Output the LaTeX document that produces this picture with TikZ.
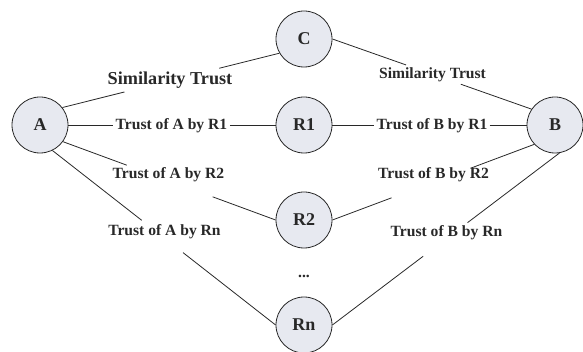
\documentclass[tikz,border=0pt]{standalone}
\usepackage{fontspec}
\setmainfont{Liberation Serif}
\usetikzlibrary{calc}
\definecolor{nodefill}{RGB}{231,233,240}
\definecolor{inkgray}{RGB}{40,40,40}
\tikzset{
  ent/.style={circle, draw=inkgray, line width=0.8pt, fill=nodefill, minimum size=56pt, inner sep=0pt, font=\fontsize{18}{18}\selectfont\bfseries, text=inkgray},
  lbl/.style={anchor=base, inner sep=0pt, font=\fontsize{15.6}{16}\selectfont\bfseries, text=inkgray},
  biglbl/.style={anchor=base, inner sep=0pt, font=\fontsize{18.2}{19}\selectfont\bfseries, text=inkgray},
  conn/.style={draw=inkgray, line width=0.8pt}
}
\begin{document}
\begin{tikzpicture}[x=1pt,y=-1pt]
\useasboundingbox (0,0) rectangle (583,352);
% nodes
\node[ent] (A)  at (40,125)  {A};
\node[ent] (C)  at (304,39)  {C};
\node[ent] (R1) at (304,125) {R1};
\node[ent] (R2) at (304,220) {R2};
\node[ent] (Rn) at (304,325) {Rn};
\node[ent] (B)  at (555,125) {B};
% labels
\node[biglbl] (lAC)  at (170,85)    {Similarity Trust};
\node[lbl]    (lCB)  at (432.5,79)  {Similarity Trust};
\node[lbl]    (lAR1) at (171.5,130) {Trust of A by R1};
\node[lbl]    (lBR1) at (432,130)   {Trust of B by R1};
\node[lbl]    (lAR2) at (168.5,179) {Trust of A by R2};
\node[lbl]    (lBR2) at (433.5,179) {Trust of B by R2};
\node[lbl]    (lARn) at (164.5,236) {Trust of A by Rn};
\node[lbl]    (lBRn) at (446.5,237) {Trust of B by Rn};
\node[lbl]    (dots) at (304,278)   {...};
% connectors (broken around their labels)
\draw[conn] (A.38) -- ($(A.38)!0.286!(C.210)$);
\draw[conn] ($(A.38)!0.723!(C.210)$) -- (C.210);
\draw[conn] (C.east) -- ($(C.east)!0.37!(B.146)$);
\draw[conn] ($(C.east)!0.645!(B.146)$) -- (B.146);
\draw[conn] (A.east) -- ($(A.east)!0.216!(R1.west)$);
\draw[conn] ($(A.east)!0.779!(R1.west)$) -- (R1.west);
\draw[conn] (R1.east) -- ($(R1.east)!0.215!(B.west)$);
\draw[conn] ($(R1.east)!0.81!(B.west)$) -- (B.west);
\draw[conn] (A.-36) -- ($(A.-36)!0.30!(R2.west)$);
\draw[conn] ($(A.-36)!0.704!(R2.west)$) -- (R2.west);
\draw[conn] (R2.east) -- ($(R2.east)!0.293!(B.223)$);
\draw[conn] ($(R2.east)!0.688!(B.223)$) -- (B.223);
\draw[conn] (A.-64) -- ($(A.-64)!0.40!(Rn.west)$);
\draw[conn] ($(A.-64)!0.585!(Rn.west)$) -- (Rn.west);
\draw[conn] (B.-81) -- ($(B.-81)!0.405!(Rn.east)$);
\draw[conn] ($(B.-81)!0.60!(Rn.east)$) -- (Rn.east);
\end{tikzpicture}
\end{document}
